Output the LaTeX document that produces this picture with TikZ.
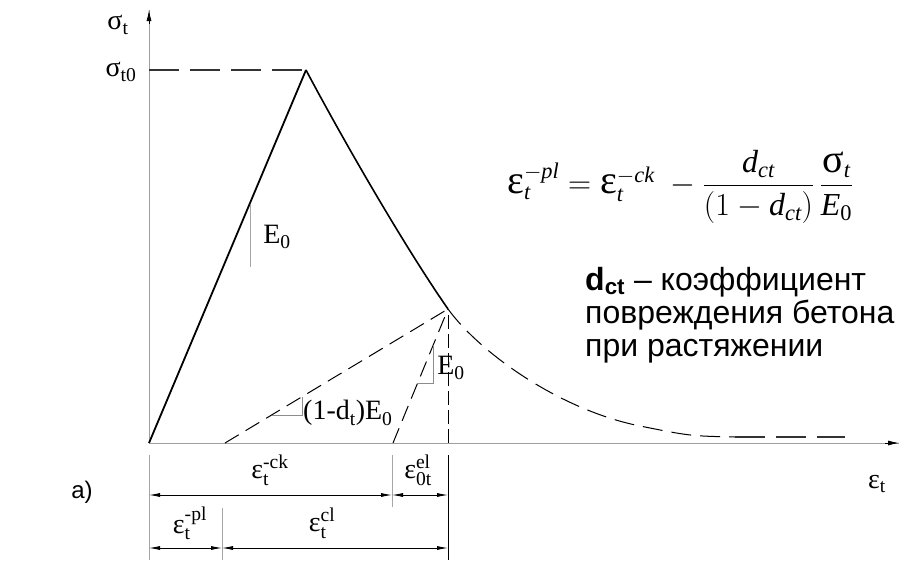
\RequirePackage{fix-cm}
\documentclass[tikz,border=0pt]{standalone}
\usepackage{fontspec}
\usepackage{amsmath}
\setmainfont{Liberation Serif}
\newfontfamily\sansfont{Liberation Sans}
\usetikzlibrary{arrows.meta}
\newcommand{\ti}[1]{\text{\itshape #1}}
\newcommand{\rmt}[1]{\text{#1}}
\newcommand{\bgr}[1]{\text{\fontsize{40}{40}\selectfont #1}}
\begin{document}
\begin{tikzpicture}[x=1pt,y=-1pt,
  axisline/.style={draw=gray!75, line width=0.9pt},
  mainline/.style={draw=black, line width=1.8pt, line join=round},
  dashline/.style={draw=black, line width=1.0pt, dash pattern=on 16pt off 8pt},
  longdash/.style={draw=black!80, line width=1.1pt, dash pattern=on 30pt off 11pt},
  thinline/.style={draw=gray!70, line width=0.8pt},
  dimline/.style={draw=black, line width=0.8pt, {Latex[length=11pt,width=4pt]}-{Latex[length=11pt,width=4pt]}},
  lbl/.style={font=\fontsize{28}{32}\selectfont, inner sep=0pt},
  ru/.style={font=\sansfont\fontsize{32}{36}\selectfont, inner sep=0pt, anchor=base west}]
\useasboundingbox (0,0) rectangle (900,560);
% key points
\coordinate (O) at (149,443);
\coordinate (Ytop) at (149,10);
\coordinate (Xend) at (899,443);
\coordinate (P) at (306,70);
\coordinate (Py) at (149,70);
\coordinate (U) at (448,309);
\coordinate (Ux) at (448,443);
\coordinate (A) at (225,443);
\coordinate (B) at (393,443);
\coordinate (T1) at (640,426);
\coordinate (T2) at (735,437);
\coordinate (T3) at (845,437);
% axes
\draw[axisline] (O) -- (Xend);
\draw[draw=black, line width=0.8pt, -{Latex[length=11pt,width=5pt]}] (Xend) ++(-14,0) -- (Xend);
\draw[axisline] (O) -- (Ytop);
\draw[draw=black, line width=0.8pt, -{Latex[length=11pt,width=5pt]}] (Ytop) ++(0,14) -- (Ytop);
% sigma_t0 dashed
\draw[longdash] (Py) -- (P);
% loading line
\draw[mainline] (O) -- (P);
% softening curve
\draw[mainline, line width=1.6pt] (P) .. controls (335,125) and (400,240) .. (U);
\draw[dashline, dash pattern=on 20pt off 9pt] (U) .. controls (480,353) and (560,410) .. (T1) .. controls (690,436) .. (T2);
\draw[longdash] (T2) -- (T3);
% unloading lines
\draw[dashline] (A) -- (U);
\draw[dashline] (B) -- (U);
\draw[dashline, line width=0.9pt, dash pattern=on 14pt off 5pt] (Ux) -- (U);
% slope triangles
\coordinate (L1) at (250,205);
\coordinate (L2) at (250,267);
\draw[thinline] (L1) -- (L2);
\coordinate (S1) at (272,415);
\coordinate (S2) at (302,415);
\coordinate (S3) at (302,397);
\draw[thinline, draw=gray!90] (S1) -- (S2) -- (S3);
\coordinate (R1) at (417,383);
\coordinate (R2) at (433,383);
\coordinate (R3) at (433,345);
\draw[thinline, draw=gray!90] (R1) -- (R2) -- (R3);
% labels on diagram
\node[lbl] (sig) at (118,25) {$\rmt{σ}_{\rmt{t}}$};
\node[lbl] (sig0) at (121,72) {$\rmt{σ}_{\rmt{t0}}$};
\node[lbl] (E1) at (277,237) {$\rmt{E}_{\rmt{0}}$};
\node[lbl] (E2) at (451,368) {$\rmt{E}_{\rmt{0}}$};
\node[lbl, anchor=base west] (E3) at (303,419) {$\rmt{(1-d}_{\rmt{t}}\rmt{)E}_{\rmt{0}}$};
\node[lbl] (epsx) at (877,484) {$\rmt{ε}_{\rmt{t}}$};
\node[font=\sansfont\fontsize{24}{28}\selectfont, inner sep=0pt] (a) at (82,492) {a)};
% dimension lines
\coordinate (D0) at (149,455);
\coordinate (D0b) at (149,560);
\coordinate (Dk) at (392,455);
\coordinate (Dkb) at (392,507);
\coordinate (Dp) at (222,508);
\coordinate (Dpb) at (222,560);
\coordinate (De) at (448,455);
\coordinate (Deb) at (448,560);
\draw[thinline] (D0) -- (D0b);
\draw[thinline] (Dk) -- (Dkb);
\draw[thinline] (Dp) -- (Dpb);
\draw[draw=black, line width=0.8pt] (De) -- (Deb);
\coordinate (r1a) at (149,495);
\coordinate (r1b) at (392,495);
\coordinate (r1c) at (448,495);
\coordinate (r2a) at (149,548);
\coordinate (r2b) at (222,548);
\coordinate (r2c) at (448,548);
\draw[dimline] (r1a) -- (r1b);
\draw[dimline] (r1b) -- (r1c);
\draw[dimline] (r2a) -- (r2b);
\draw[dimline] (r2b) -- (r2c);
\node[lbl] (eck) at (270,470) {$\rmt{ε}_{\rmt{t}}^{\rmt{-ck}}$};
\node[lbl] (eel) at (418,470) {$\rmt{ε}_{\rmt{0t}}^{\rmt{el}}$};
\node[lbl] (epl) at (190,523) {$\rmt{ε}_{\rmt{t}}^{\rmt{-pl}}$};
\node[lbl] (ecl) at (322,523) {$\rmt{ε}_{\rmt{t}}^{\rmt{cl}}$};
% formula
\node[font=\fontsize{32}{36}\selectfont, inner sep=0pt, anchor=west] (formula) at (507,187)
  {$\bgr{ε}_{\ti{t}}^{-\ti{pl}} = \bgr{ε}_{\ti{t}}^{-\ti{ck}}\; - \dfrac{\ti{d}_{\ti{ct}}}{(1-\ti{d}_{\ti{ct}})}\,\dfrac{\bgr{σ}_{\ti{t}}}{\ti{E}_{\rmt{0}}}$};
% description
\node[ru] (d1) at (585,290) {\textbf{d}\textsubscript{\textbf{ct}} – коэффициент};
\node[ru] (d2) at (585,323) {повреждения бетона};
\node[ru] (d3) at (585,356) {при растяжении};
\end{tikzpicture}
\end{document}
